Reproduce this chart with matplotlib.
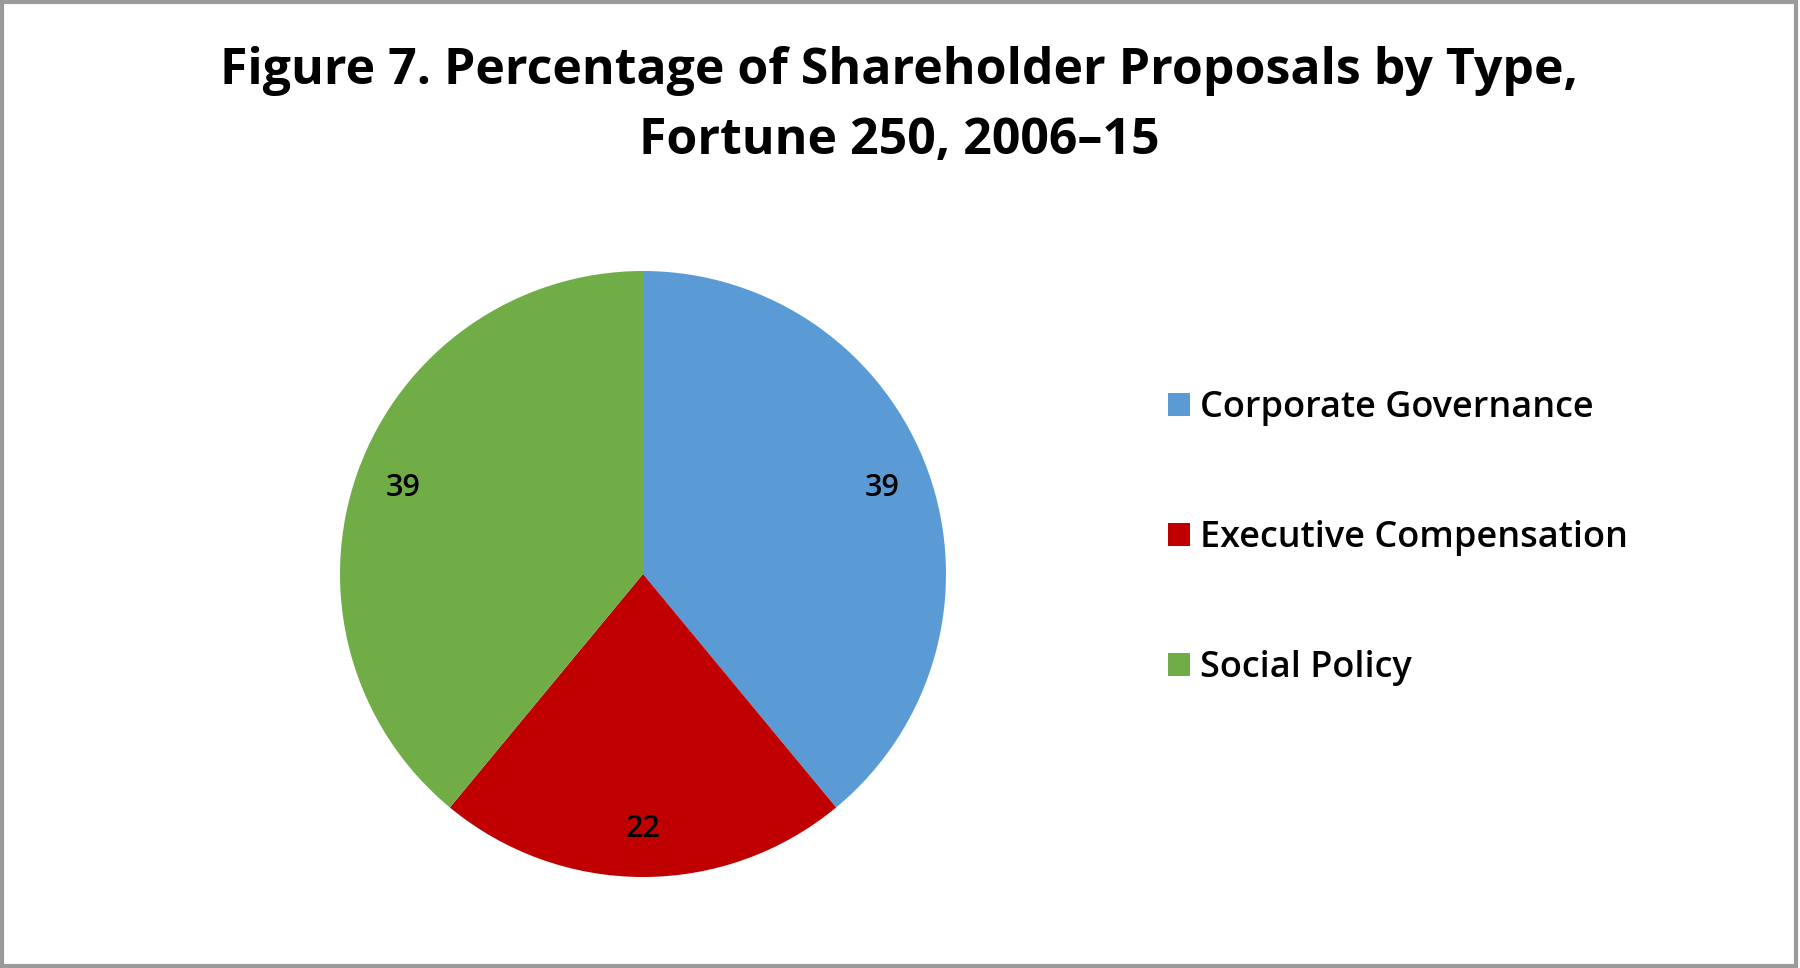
import matplotlib
matplotlib.use("Agg")
import matplotlib.pyplot as plt
from matplotlib.patches import Rectangle

categories = ["Corporate Governance", "Executive Compensation", "Social Policy"]
values = [39, 22, 39]
colors = ["#5B9BD5", "#C00000", "#70AD47"]
title = "Figure 7. Percentage of Shareholder Proposals by Type,\nFortune 250, 2006\u201315"

plt.rcParams['font.family'] = ['Open Sans', 'DejaVu Sans']

W, H = 1800, 968
fig = plt.figure(figsize=(W / 100, H / 100), dpi=100)
fig.patch.set_facecolor("white")

# pie axes: center (643, 574), radius ~303 px
r = 303
cx, cy = 643, 574
ax = fig.add_axes([(cx - r) / W, 1 - (cy + r) / H, 2 * r / W, 2 * r / H])
wedges, texts, autotexts = ax.pie(
    values, colors=colors, startangle=90, counterclock=False,
    autopct=lambda p: f"{p:.0f}", pctdistance=0.84,
    wedgeprops=dict(linewidth=0),
    textprops=dict(fontsize=22, color="black", fontweight="semibold"))
ax.set_aspect("equal")
ax.set_xlim(-1, 1)
ax.set_ylim(-1, 1)

fig.text(0.4995, 1 - 106 / H, title, ha="center", va="center",
         fontsize=36, fontweight="bold", linespacing=1.52)

leg = fig.legend(wedges, categories, loc="upper left",
                 bbox_to_anchor=(1168 / W, 1 - 390 / H),
                 frameon=False, fontsize=26, handlelength=0.6,
                 handleheight=0.6, handletextpad=0.3, labelspacing=2.6,
                 borderaxespad=0, borderpad=0)
for t in leg.get_texts():
    t.set_fontweight("semibold")

fig.add_artist(Rectangle((0.001, 0.002), 0.997, 0.996, transform=fig.transFigure,
                         fill=False, edgecolor="#9a9a9a", linewidth=3))

fig.savefig("out.png", dpi=100, facecolor="white")
